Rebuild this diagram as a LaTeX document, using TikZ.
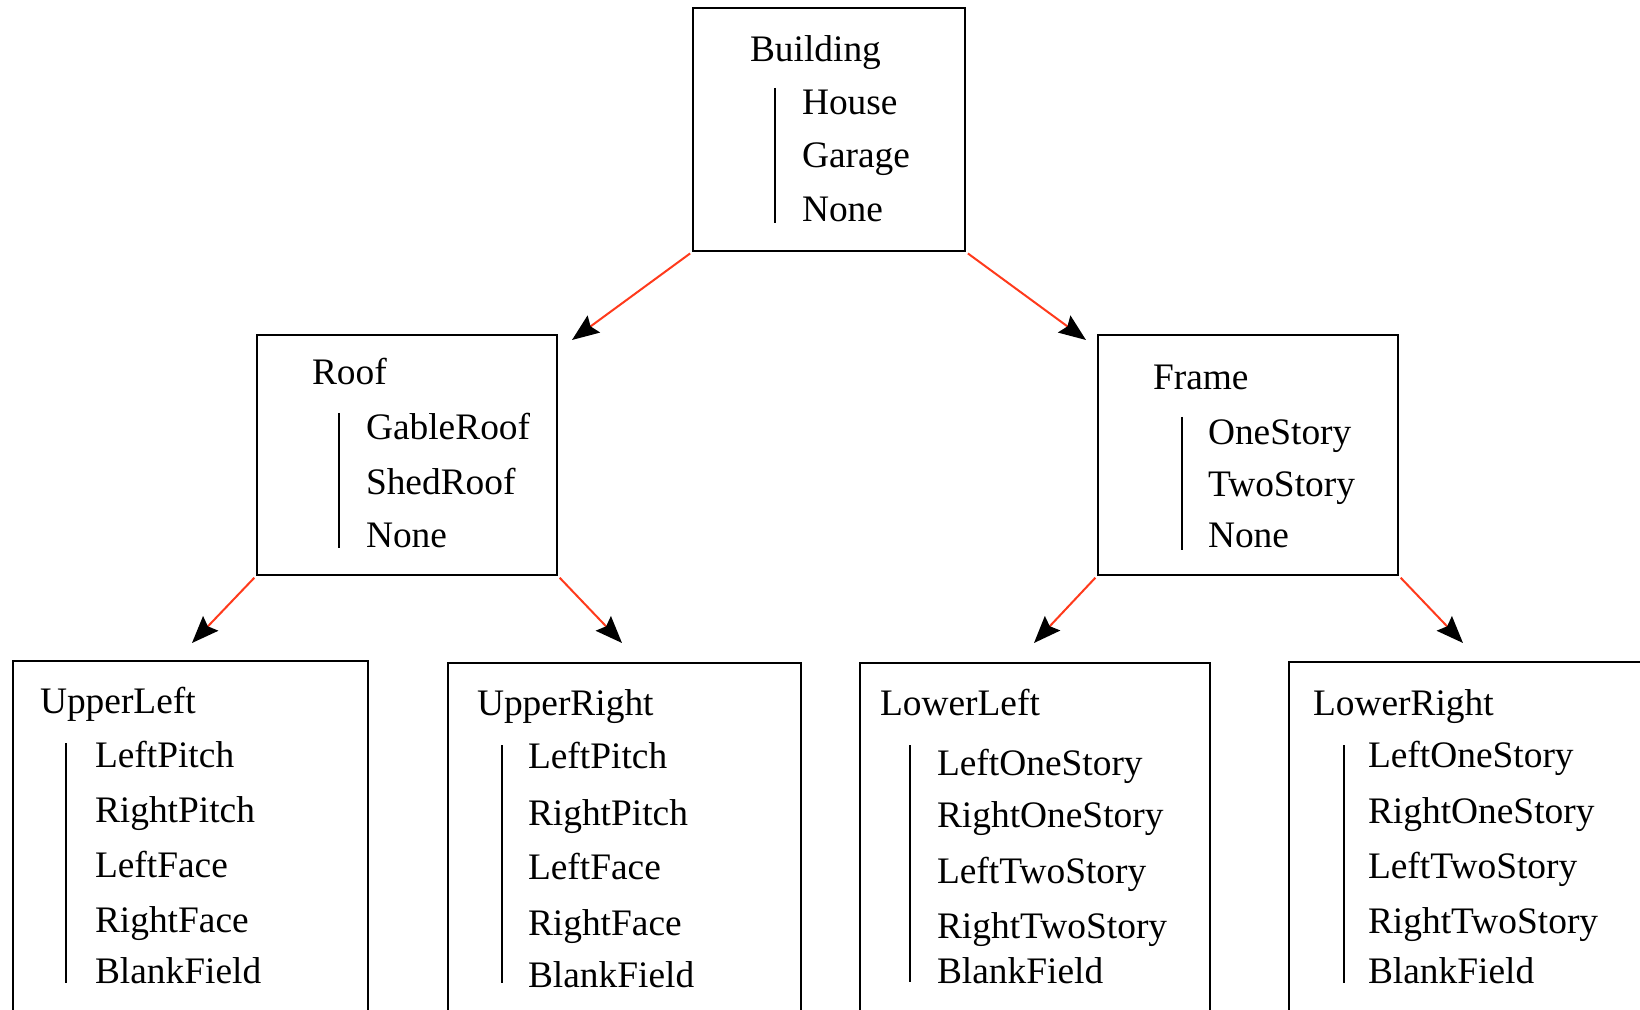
\documentclass[tikz,border=0pt]{standalone}
\usepackage{fontspec}
\setmainfont{Liberation Serif}
\usetikzlibrary{arrows.meta,fit}
\definecolor{connred}{RGB}{255,58,28}
\begin{document}
\begin{tikzpicture}[x=0.5pt,y=-0.5pt,
  font=\fontsize{18.7}{22}\selectfont,
  box/.style={draw=black,line width=1.25pt,inner sep=0pt,rectangle},
  lbl/.style={anchor=base west,inner sep=0pt,outer sep=0pt},
  bar/.style={draw=black,line width=1pt},
  conn/.style={draw=connred,line width=1pt,shorten <=1pt,
    -{Stealth[color=black,length=13.5pt,width=10.5pt,inset=2pt]}}]
\useasboundingbox (0,0) rectangle (1640,1010);

% ---- boxes ----
\node[box,fit={(693,8) (965,251)}] (building) {};
\node[box,fit={(257,335) (557,575)}] (roof) {};
\node[box,fit={(1098,335) (1398,575)}] (frame) {};
\node[box,fit={(13,661) (368,1014)}] (upperleft) {};
\node[box,fit={(448,663) (801,1014)}] (upperright) {};
\node[box,fit={(860,663) (1210,1014)}] (lowerleft) {};
\node[box,fit={(1289,662) (1650,1014)}] (lowerright) {};

% ---- Building ----
\node[lbl] (b-t) at (750,62) {Building};
\draw[bar] (775,88) -- (775,223);
\node[lbl] (b-1) at (802,115) {House};
\node[lbl] (b-2) at (802,168) {Garage};
\node[lbl] (b-3) at (802,222) {None};

% ---- Roof ----
\node[lbl] (r-t) at (312,385) {Roof};
\draw[bar] (339,413) -- (339,548);
\node[lbl] (r-1) at (366,440) {GableRoof};
\node[lbl] (r-2) at (366,495) {ShedRoof};
\node[lbl] (r-3) at (366,548) {None};

% ---- Frame ----
\node[lbl] (f-t) at (1153,390) {Frame};
\draw[bar] (1182,417) -- (1182,550);
\node[lbl] (f-1) at (1208,445) {OneStory};
\node[lbl] (f-2) at (1208,497) {TwoStory};
\node[lbl] (f-3) at (1208,548) {None};

% ---- UpperLeft ----
\node[lbl] (ul-t) at (40,713) {UpperLeft};
\draw[bar] (66,743) -- (66,983);
\node[lbl] (ul-1) at (95,768) {LeftPitch};
\node[lbl] (ul-2) at (95,822) {RightPitch};
\node[lbl] (ul-3) at (95,877) {LeftFace};
\node[lbl] (ul-4) at (95,932) {RightFace};
\node[lbl] (ul-5) at (95,983) {BlankField};

% ---- UpperRight ----
\node[lbl] (ur-t) at (477,715) {UpperRight};
\draw[bar] (502,745) -- (502,983);
\node[lbl] (ur-1) at (528,769) {LeftPitch};
\node[lbl] (ur-2) at (528,825) {RightPitch};
\node[lbl] (ur-3) at (528,879) {LeftFace};
\node[lbl] (ur-4) at (528,935) {RightFace};
\node[lbl] (ur-5) at (528,987) {BlankField};

% ---- LowerLeft ----
\node[lbl] (ll-t) at (880,715) {LowerLeft};
\draw[bar] (910,745) -- (910,982);
\node[lbl] (ll-1) at (937,775) {LeftOneStory};
\node[lbl] (ll-2) at (937,827) {RightOneStory};
\node[lbl] (ll-3) at (937,883) {LeftTwoStory};
\node[lbl] (ll-4) at (937,938) {RightTwoStory};
\node[lbl] (ll-5) at (937,983) {BlankField};

% ---- LowerRight ----
\node[lbl] (lr-t) at (1313,715) {LowerRight};
\draw[bar] (1344,745) -- (1344,983);
\node[lbl] (lr-1) at (1368,768) {LeftOneStory};
\node[lbl] (lr-2) at (1368,823) {RightOneStory};
\node[lbl] (lr-3) at (1368,878) {LeftTwoStory};
\node[lbl] (lr-4) at (1368,933) {RightTwoStory};
\node[lbl] (lr-5) at (1368,983) {BlankField};

% ---- arrow tips ----
\coordinate (tip-roof) at (572,340);
\coordinate (tip-frame) at (1086,340);
\coordinate (tip-ul) at (192,643);
\coordinate (tip-ur) at (622,643);
\coordinate (tip-ll) at (1034,643);
\coordinate (tip-lr) at (1463,643);

% ---- connectors ----
\draw[conn] (building.south west) -- (tip-roof);
\draw[conn] (building.south east) -- (tip-frame);
\draw[conn] (roof.south west) -- (tip-ul);
\draw[conn] (roof.south east) -- (tip-ur);
\draw[conn] (frame.south west) -- (tip-ll);
\draw[conn] (frame.south east) -- (tip-lr);
\end{tikzpicture}
\end{document}
